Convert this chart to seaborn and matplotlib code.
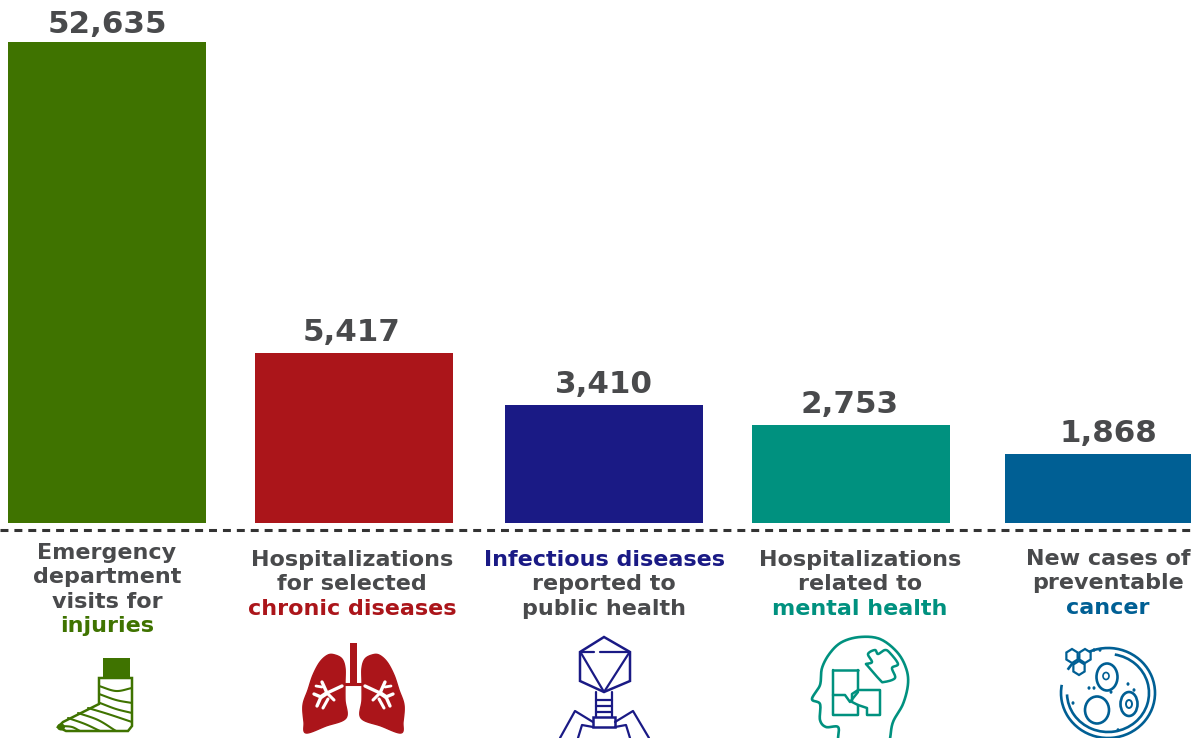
import numpy as np
import pandas as pd
import matplotlib
matplotlib.use("Agg")
import matplotlib.pyplot as plt
from matplotlib.patches import Polygon, Rectangle, Ellipse, Arc
import seaborn as sns

# ---- data ----
categories = ["injuries", "chronic diseases", "infectious diseases", "mental health", "cancer"]
values = [52635, 5417, 3410, 2753, 1868]
colors = ["#3f7300", "#ab151a", "#1a1a85", "#00917f", "#005f94"]
label_lines = [
    ["Emergency", "department", "visits for", "injuries"],
    ["Hospitalizations", "for selected", "chronic diseases"],
    ["Infectious diseases", "reported to", "public health"],
    ["Hospitalizations", "related to", "mental health"],
    ["New cases of", "preventable", "cancer"],
]
coloured_line = [3, 2, 0, 2, 2]

# ---- layout (pixels) ----
W, H = 1191, 738
BASE = 523
centres = [107, 354, 604, 851, 1104]
label_x = [107, 352, 604, 860, 1108]
label_first_y = [553, 560, 560, 560, 559]
value_dx = [0, -2, 0, -1, 3]     # points
value_dy = [2, 4, 4, 4, 4]       # points
GREY = "#494a4c"

# The source's axis is non-linear: value -> drawn height in pixels
scale_vals = [0, 1868, 2753, 3410, 5417, 52635, 1000000]
scale_px = [0, 69, 98, 118, 170, 481, 6712]
fwd = lambda v: np.interp(v, scale_vals, scale_px)
inv = lambda p: np.interp(p, scale_px, scale_vals)

sns.set_theme(style="white")
plt.rcParams["font.family"] = ["DejaVu Sans"]

fig = plt.figure(figsize=(W / 100, H / 100), dpi=100, facecolor="white")
ax = fig.add_axes([0, (H - BASE) / H, 1, BASE / H])
df = pd.DataFrame({"x": centres, "value": values, "cat": categories})
sns.barplot(data=df, x="x", y="value", hue="cat", palette=colors, native_scale=True,
            dodge=False, legend=False, width=198 / 247, linewidth=0, saturation=1, ax=ax)
ax.set_yscale("function", functions=(fwd, inv))
ax.set_xlim(0, W)
ax.set_ylim(0, inv(BASE))
ax.axis("off")
for i, cont in enumerate(ax.containers):
    anns = ax.bar_label(cont, labels=[f"{v:,.0f}" for v in cont.datavalues], padding=value_dy[i],
                        fontsize=22.3, fontweight="bold", color=GREY, clip_on=False)
    for ann in anns:
        ann.xyann = (value_dx[i], value_dy[i])

# overlay in pixel coordinates
ov = fig.add_axes([0, 0, 1, 1], facecolor="none")
ov.set_xlim(0, W)
ov.set_ylim(H, 0)
ov.axis("off")
ov.plot([0, W], [530, 530], color="#333333", lw=2.2, dashes=(2.6, 1.95))

for i, lines in enumerate(label_lines):
    for j, t in enumerate(lines):
        c = colors[i] if j == coloured_line[i] else GREY
        ov.text(label_x[i], label_first_y[i] + j * 24.4, t, ha="center", va="center",
                fontsize=16, fontweight="bold", color=c)


def smooth(pts, n=12):
    """Catmull-Rom curve through an icon's outline points."""
    p = np.array(pts, float)
    p = np.vstack([2 * p[0] - p[1], p, 2 * p[-1] - p[-2]])
    out = []
    for k in range(1, len(p) - 2):
        for u in np.linspace(0, 1, n, endpoint=False):
            out.append(0.5 * (2 * p[k] + (p[k + 1] - p[k - 1]) * u
                              + (2 * p[k - 1] - 5 * p[k] + 4 * p[k + 1] - p[k + 2]) * u ** 2
                              + (3 * p[k] - p[k - 1] - 3 * p[k + 1] + p[k + 2]) * u ** 3))
    out.append(p[-2])
    return np.array(out)


def pl(xs, ys, c, lw=2.0):
    ov.plot(xs, ys, color=c, lw=lw, solid_capstyle="round", solid_joinstyle="round")


def cv(pts, c, lw=1.6):
    s = smooth(pts)
    pl(s[:, 0], s[:, 1], c, lw)


# --- cast icon ---
g = colors[0]
ov.add_patch(Rectangle((103, 658), 27, 20, color=g, lw=0))
ov.add_patch(Polygon([(99, 678), (132, 678), (132, 726), (128, 731), (66, 731), (58, 727), (63, 722), (99, 704)],
                     closed=True, fc="white", ec=g, lw=1.8))
for pts in [[(99, 686), (116, 691), (132, 688)], [(99, 694), (116, 700), (132, 703)],
            [(100, 703), (116, 709), (132, 713)], [(88, 708), (108, 714), (132, 722)],
            [(78, 713), (98, 720), (116, 731)], [(68, 718), (85, 724), (100, 731)],
            [(62, 726), (72, 727), (80, 731)]]:
    cv(pts, g, 1.5)
ov.add_patch(Ellipse((61, 727), 8, 7, color=g, lw=0))

# --- lungs icon ---
r = colors[1]
ov.add_patch(Rectangle((350, 643), 7, 42, color=r, lw=0))
lung_l = [(345, 682), (345, 668), (342, 659), (335, 655), (328, 655), (320, 662), (313, 675),
          (308, 690), (303, 705), (304, 722), (306, 733), (326, 726), (346, 718), (345, 700), (345, 682)]
lung_s = smooth(lung_l)
ov.add_patch(Polygon(lung_s, closed=True, fc=r, ec=r, lw=1))
ov.add_patch(Polygon(np.c_[707 - lung_s[:, 0], lung_s[:, 1]], closed=True, fc=r, ec=r, lw=1))
pl([345, 362], [684, 684], r, 2.2)
for s in (1, -1):
    m = lambda x: x if s == 1 else 707 - x
    pl([m(342), m(327)], [686, 693], "white", 2.4)
    pl([m(327), m(321)], [693, 697], "white", 3)
    pl([m(321), m(314)], [697, 694], "white", 2.4)
    pl([m(321), m(317)], [697, 706], "white", 2.4)
    pl([m(327), m(322)], [693, 682], "white", 2.4)
    pl([m(322), m(316)], [687, 686], "white", 2)
    pl([m(327), m(334)], [693, 700], "white", 2.2)
    pl([m(328), m(323)], [699, 708], "white", 2.2)

# --- virus icon ---
b = colors[2]
ov.add_patch(Polygon([(604, 637), (630, 652), (630, 681), (604, 692), (580, 681), (580, 652)],
                     closed=True, fc="none", ec=b, lw=1.8))
pl([581, 594], [652, 652], b, 1.6)
pl([600, 629], [652, 652], b, 1.6)
pl([581, 604, 629], [653, 692, 653], b, 1.6)
pl([596, 596], [692, 717], b, 1.6)
pl([612, 612], [692, 717], b, 1.6)
for y in (700, 706, 712):
    pl([596, 612], [y, y], b, 1.6)
ov.add_patch(Rectangle((593, 717), 22, 10, fc="none", ec=b, lw=1.8))
pl([593, 575, 560], [722, 711, 738], b, 1.6)
pl([615, 633, 649], [722, 711, 738], b, 1.6)
pl([593, 582, 578], [727, 725, 738], b, 1.6)
pl([615, 626, 630], [727, 725, 738], b, 1.6)

# --- head / puzzle icon ---
t = colors[3]
cv([(838, 739), (838, 727), (826, 727), (820, 720), (820, 704), (812, 699), (820, 685), (822, 668),
    (830, 653), (842, 642), (860, 637), (880, 639), (897, 652), (906, 668), (908, 684), (903, 704),
    (893, 722), (890, 739)], t, 1.9)
pl([833, 833, 858, 858, 852, 852, 858, 858], [670, 715, 715, 705, 702, 694, 690, 670], t, 1.8)
pl([833, 858], [670, 670], t, 1.8)
pl([833, 845, 850, 858], [695, 695, 702, 692], t, 1.8)
pl([858, 880, 880, 867, 867, 858], [690, 690, 715, 715, 708, 705], t, 1.8)
cv([(866, 664), (872, 662), (868, 654), (875, 650), (878, 654), (885, 650), (890, 653), (898, 664),
    (892, 668), (895, 678), (884, 682), (880, 680), (866, 664)], t, 1.8)

# --- petri dish icon ---
d = colors[4]
ov.add_patch(Arc((1108, 693), 94, 90, theta1=-150, theta2=190, ec=d, lw=1.9))
ov.add_patch(Arc((1108, 693), 82, 78, theta1=-80, theta2=178, ec=d, lw=1.9))
ov.add_patch(Ellipse((1107, 677), 21, 27, fc="none", ec=d, lw=1.9))
ov.add_patch(Ellipse((1097, 710), 24, 27, fc="none", ec=d, lw=1.9))
ov.add_patch(Ellipse((1129, 704), 17, 24, fc="none", ec=d, lw=1.9))
ov.add_patch(Ellipse((1129, 704), 6, 8, fc="none", ec=d, lw=1.4))
ov.add_patch(Ellipse((1106, 676), 6, 7, fc="none", ec=d, lw=1.2))
for cx, cy in [(1072, 656), (1085, 656), (1079, 668)]:
    a = np.deg2rad(np.arange(30, 390, 60))
    ov.add_patch(Polygon(np.c_[cx + 6.5 * np.cos(a), cy + 7 * np.sin(a)], closed=True, fc="white", ec=d, lw=1.6))
for x, y in [(1094, 650), (1100, 650), (1089, 688), (1094, 688), (1128, 684), (1134, 690), (1073, 703), (1118, 730), (1111, 692)]:
    ov.add_patch(Ellipse((x, y), 3, 3.5, color=d, lw=0))

fig.savefig("out.png", dpi=100, facecolor="white")
